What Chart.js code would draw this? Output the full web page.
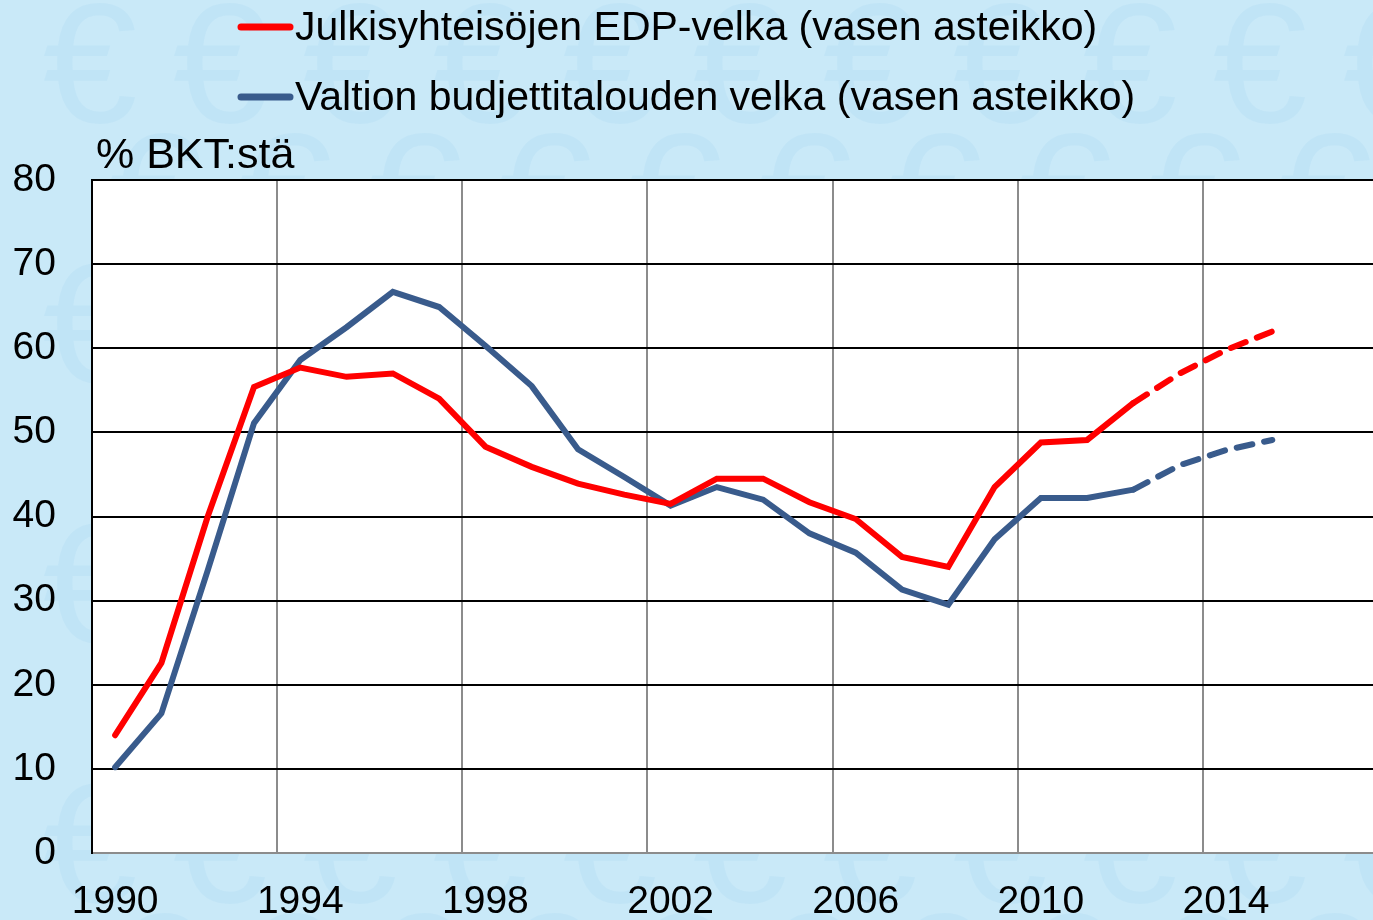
<!DOCTYPE html>
<html>
<head>
<meta charset="utf-8">
<script src="https://cdn.jsdelivr.net/npm/chart.js@4"></script>
<style>
  html, body { margin: 0; padding: 0; overflow: hidden; background: #c9e9f8; }
  #wrap { width: 1373px; height: 920px; overflow: hidden; }
</style>
</head>
<body>
<div id="wrap"><canvas id="debtChart" width="1400" height="920"></canvas></div>
<script>
// years on the category axis
const YEARS = [];
for (let y = 1990; y <= 2017; y++) YEARS.push(String(y));

// % of GDP, 2013-2015 are forecasts (dashed)
const EDP_DEBT = [14.0, 22.6, 40.0, 55.4, 57.7, 56.6, 57.0, 54.0, 48.3, 45.9, 43.9, 42.6, 41.5, 44.5, 44.5, 41.7, 39.7, 35.2, 34.0, 43.5, 48.8, 49.1, 53.5, 57.0, 59.8, 62.0];
const STATE_DEBT = [10.2, 16.6, 33.6, 51.1, 58.6, 62.5, 66.7, 64.9, 60.3, 55.5, 48.0, 44.7, 41.3, 43.5, 42.0, 38.0, 35.7, 31.3, 29.5, 37.3, 42.2, 42.2, 43.2, 46.1, 47.9, 49.1];
const Y_TICKS = [0, 10, 20, 30, 40, 50, 60, 70, 80];

const FORECAST_FROM = 22; // index of 2012, segments after it are dashed
const FONT = "Liberation Sans, Arial, sans-serif";

const dashAfter = ctx => ctx.p0DataIndex >= FORECAST_FROM ? [16, 12] : undefined;

// faint euro watermark + white plot area
const backdrop = {
  id: "backdrop",
  beforeDraw(chart) {
    const { ctx, chartArea: a } = chart;
    ctx.save();
    ctx.fillStyle = "#c9e9f8";
    ctx.fillRect(0, 0, chart.width, chart.height);
    ctx.fillStyle = "rgba(130, 200, 235, 0.12)";
    ctx.font = "170px " + FONT;
    ctx.textAlign = "center";
    ctx.textBaseline = "middle";
    for (let row = 0; row < 8; row++) {
      for (let col = 0; col < 12; col++) {
        ctx.fillText("€", 90 + col * 130 + (row % 2) * 65, 75 + row * 130);
      }
    }
    ctx.fillStyle = "#ffffff";
    ctx.fillRect(a.left, a.top, a.right - a.left, a.bottom - a.top);
    ctx.restore();
  }
};

// legend and unit label drawn by hand to keep the left aligned layout
const legendAndUnit = {
  id: "legendAndUnit",
  afterDraw(chart) {
    const { ctx } = chart;
    ctx.save();
    ctx.lineCap = "round";
    ctx.lineWidth = 7;
    ctx.font = "41px " + FONT;
    ctx.fillStyle = "#000";
    ctx.textBaseline = "middle";
    chart.data.datasets.forEach((ds, i) => {
      const y = 27 + i * 70;
      ctx.strokeStyle = ds.borderColor;
      ctx.beginPath();
      ctx.moveTo(241, y);
      ctx.lineTo(290, y);
      ctx.stroke();
      ctx.fillText(ds.label, 295, y + 2);
    });
    ctx.font = "43px " + FONT;
    ctx.fillText("% BKT:stä", 96, 156);
    ctx.restore();
  }
};

new Chart(document.getElementById("debtChart"), {
  type: "line",
  data: {
    labels: YEARS,
    datasets: [
      {
        label: "Julkisyhteisöjen EDP-velka (vasen asteikko)",
        data: EDP_DEBT,
        borderColor: "#ff0000",
        borderWidth: 6,
        pointRadius: 0,
        tension: 0,
        borderCapStyle: "round",
        segment: { borderDash: dashAfter }
      },
      {
        label: "Valtion budjettitalouden velka (vasen asteikko)",
        data: STATE_DEBT,
        borderColor: "#395b8c",
        borderWidth: 6,
        pointRadius: 0,
        tension: 0,
        borderCapStyle: "round",
        segment: { borderDash: dashAfter }
      }
    ]
  },
  options: {
    responsive: false,
    animation: false,
    layout: { padding: { top: 180, right: 12, left: 0, bottom: 0 } },
    plugins: { legend: { display: false }, tooltip: { enabled: false } },
    scales: {
      x: {
        type: "category",
        offset: true,
        grid: {
          offset: true,
          drawTicks: false,
          lineWidth: 2,
          color: c => (c.index % 4 === 0 && c.index > 0) ? "#8c8c8c" : "rgba(0,0,0,0)"
        },
        border: { display: true, color: "#8c8c8c", width: 2 },
        ticks: {
          autoSkip: false,
          maxRotation: 0,
          padding: 26,
          color: "#000",
          font: { family: FONT, size: 39 },
          callback: (v, i) => i % 4 === 0 ? YEARS[i] : ""
        },
        afterFit: s => { s.height = 67; }
      },
      y: {
        min: 0,
        max: 80,
        afterBuildTicks: s => { s.ticks = Y_TICKS.map(v => ({ value: v })); },
        grid: { drawTicks: false, color: "#000", lineWidth: 2 },
        border: { display: true, color: "#000", width: 2 },
        ticks: {
          padding: 36,
          color: "#000",
          font: { family: FONT, size: 39 }
        },
        afterFit: s => { s.width = 92; }
      }
    }
  },
  plugins: [backdrop, legendAndUnit]
});
</script>
</body>
</html>
